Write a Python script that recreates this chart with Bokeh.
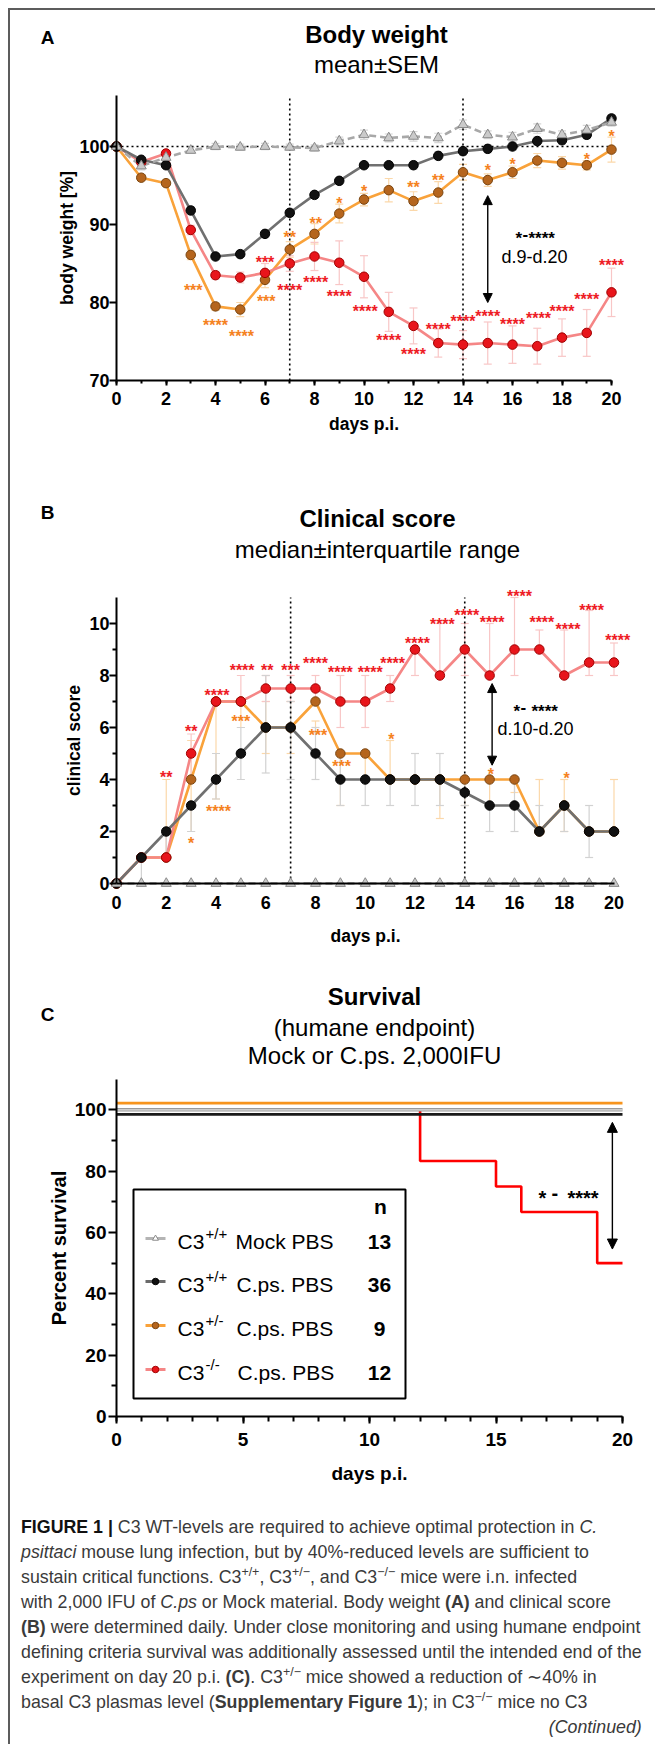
from bokeh.plotting import figure
from bokeh.models import (Range1d, FixedTicker, Label, Whisker, TeeHead, Arrow, NormalHead,
                          BoxAnnotation, ColumnDataSource, Div)
from bokeh.layouts import column
from bokeh.embed import file_html
from bokeh.resources import INLINE
from bokeh.core.properties import value
from bokeh.transform import dodge

# ---------------- data ----------------
days = list(range(21))

# Panel A: body weight [%], mean and SEM
bw_mock = [100, 97.5, 98.6, 99.5, 100.0, 99.9, 100.0, 99.9, 99.8, 100.7, 101.5, 101.1, 101.3, 101.1, 102.8, 101.5, 101.2, 102.3, 101.5, 102.1, 103.1]
bw_wt = [100, 98.3, 97.6, 91.8, 85.9, 86.2, 88.8, 91.5, 93.8, 95.6, 97.6, 97.6, 97.6, 98.8, 99.4, 99.7, 100.0, 100.7, 100.8, 101.5, 103.6]
bw_het = [100, 96.0, 95.3, 86.1, 79.5, 79.1, 82.9, 86.8, 88.8, 91.4, 93.2, 94.4, 93.0, 94.1, 96.7, 95.7, 96.7, 98.2, 97.9, 97.6, 99.6]
bw_ko = [100, 98.0, 99.1, 89.3, 83.5, 83.2, 83.8, 85.0, 85.9, 85.1, 83.3, 78.8, 77.0, 74.8, 74.6, 74.8, 74.6, 74.4, 75.5, 76.1, 81.3]
sem_mock = [0, 0.5, 0.5, 0.4, 0.4, 0.4, 0.4, 0.4, 0.4, 0.5, 0.6, 0.5, 0.6, 0.6, 0.6, 0.5, 0.6, 0.6, 0.5, 0.6, 0.5]
sem_wt = [0, 0.3, 0.3, 0.5, 0.4, 0.4, 0.4, 0.4, 0.4, 0.4, 0.4, 0.4, 0.5, 0.5, 0.5, 0.5, 0.5, 0.5, 0.5, 0.5, 0.5]
sem_het = [0, 0.4, 0.4, 0.6, 0.5, 0.9, 1.0, 1.0, 1.3, 1.2, 0.8, 1.5, 1.2, 1.4, 1.0, 0.8, 0.8, 0.9, 0.8, 0.6, 1.6]
sem_ko = [0, 0.5, 0.4, 0.6, 0.5, 0.7, 1.2, 1.0, 1.8, 2.8, 2.7, 2.5, 2.3, 1.8, 1.8, 2.7, 2.4, 2.3, 2.4, 3.0, 3.1]

bw_star_het_days = [3.1, 4, 5.05, 6.05, 7, 8.05, 9, 10, 12, 13, 15, 16, 19, 20]
bw_star_het_y = [82.1, 77.6, 76.2, 80.6, 88.9, 90.7, 93.2, 94.8, 95.2, 96.2, 97.5, 98.2, 98.9, 101.8]
bw_star_het_txt = ["***", "****", "****", "***", "**", "**", "*", "*", "**", "**", "*", "*", "*", "*"]
bw_star_ko_days = [6, 7, 8.05, 9, 10.05, 11, 12, 13, 14, 15, 16, 17.05, 18, 19, 20]
bw_star_ko_y = [85.7, 82.1, 83.1, 81.3, 79.4, 75.6, 73.8, 77.0, 78.1, 78.7, 77.7, 78.4, 79.4, 80.9, 85.2]
bw_star_ko_txt = ["***"] + ["****"] * 14

# Panel B: clinical score, median and interquartile range
cs_mock = [0] * 21
cs_wt = [0, 1, 2, 3, 4, 5, 6, 6, 5, 4, 4, 4, 4, 4, 3.5, 3, 3, 2, 3, 2, 2]
cs_het = [0, 1, 1, 4, 7, 7, 6, 6, 7, 5, 5, 4, 4, 4, 4, 4, 4, 2, 3, 2, 2]
cs_ko = [0, 1, 1, 5, 7, 7, 7.5, 7.5, 7.5, 7, 7, 7.5, 9, 8, 9, 8, 9, 9, 8, 8.5, 8.5]
iqr_wt_lo = [0, 0, 1, 2, 3.25, 4, 4.25, 4, 4, 3, 3, 3, 3, 3, 3, 2, 2, 2, 2, 1, 2]
iqr_wt_hi = [0, 1, 2, 3, 5, 6, 8, 7, 6, 5, 4, 4, 5, 5, 4, 3, 4, 3, 3, 3, 2]
iqr_het_lo = [0, 1, 1, 2, 3.25, 6, 5, 5, 5.8, 3, 4, 4, 4, 2.5, 3, 3, 3.5, 2, 2, 2, 2]
iqr_het_hi = [0, 1, 4, 5.5, 7, 7, 7, 7, 6.25, 5, 5, 5.5, 4, 4, 4, 4, 4, 4, 4, 2, 4]
iqr_ko_lo = [0, 1, 1, 4, 7, 7, 7, 7, 7, 6, 6, 7, 8, 8, 8, 8, 8, 9, 8, 8, 8]
iqr_ko_hi = [0, 1, 2, 5.75, 7, 8, 8, 8, 8, 8, 8, 8, 9, 10, 10, 10, 11, 9.75, 9.75, 10.5, 9.25]

cs_star_ko_days = [2, 3, 4.04, 5.05, 6.06, 7, 8, 9, 10.2, 11.1, 12.1, 13.1, 14.08, 15.1, 16.2, 17.1, 18.15, 19.1, 20.15]
cs_star_ko_y = [4.23, 6.0, 7.4, 8.36, 8.36, 8.36, 8.6, 8.27, 8.27, 8.6, 9.38, 10.13, 10.45, 10.2, 11.2, 10.2, 9.94, 10.67, 9.5]
cs_star_ko_txt = ["**", "**", "****", "****", "**", "***"] + ["****"] * 13
cs_star_het_days = [3, 4.1, 5, 8.1, 9.05, 11.05, 15.05, 18.1]
cs_star_het_y = [1.7, 2.92, 6.4, 5.83, 4.64, 5.7, 4.36, 4.19]
cs_star_het_txt = ["*", "****", "***", "***", "***", "*", "*", "*"]

# Panel C: survival (Kaplan-Meier)
surv_days = [0, 20]
surv_mock = [100, 100]
surv_wt = [100, 100]
surv_het = [100, 100]
surv_ko_days = [0, 12, 15, 16, 19, 20]
surv_ko = [100, 83.3, 75.0, 66.7, 50.0, 50.0]

legend_sup = ["+/+", "+/+", "+/-", "-/-"]
legend_rest = ["Mock PBS", "C.ps. PBS", "C.ps. PBS", "C.ps. PBS"]
legend_n = ["13", "36", "9", "12"]

# ---------------- styles ----------------
FONT = "Liberation Sans"
C_WT_LINE, C_WT_MK, C_WT_ERR = "#707070", "#111111", "#d2d2d2"
C_HET_LINE, C_HET_MK, C_HET_EDGE, C_HET_ERR = "#f9a23a", "#b5651d", "#7a4510", "#fbd8aa"
C_KO_LINE, C_KO_MK, C_KO_EDGE, C_KO_ERR = "#f58686", "#e8151b", "#a00000", "#f8c6c6"
C_MOCK_LINE, C_MOCK_MK, C_MOCK_EDGE, C_MOCK_ERR = "#a8a8a8", "#cacaca", "#8a8a8a", "#d6d6d6"
C_STAR_RED, C_STAR_ORA = "#ee1c25", "#f5821f"
DOT = "2 3"

FIG_W = 637
PAGE_L = 10  # page x of figure left edge (8 margin + 2 border)


class Frame:
    def __init__(self, x0px, x20px, ya_px, ya_val, yb_px, yb_val):
        self.x0px = x0px
        self.ppd = (x20px - x0px) / 20.0
        self.ya_px, self.ya_val = ya_px, ya_val
        self.ppu = (yb_px - ya_px) / (ya_val - yb_val)

    def X(self, px):
        return (px - self.x0px) / self.ppd

    def Y(self, py):
        return self.ya_val + (self.ya_px - py) / self.ppu


def make_fig(fr, top, height):
    # the plot frame covers the whole canvas; axes are placed with fixed_location
    p = figure(width=FIG_W, height=height,
               x_range=Range1d(fr.X(PAGE_L), fr.X(PAGE_L + FIG_W)),
               y_range=Range1d(fr.Y(top + height), fr.Y(top)),
               min_border_left=0, min_border_right=0, min_border_top=0, min_border_bottom=0,
               output_backend="svg", toolbar_location=None, title=None)
    p.grid.visible = False
    p.outline_line_color = None
    p.background_fill_color = "white"
    p.border_fill_color = "white"
    return p


def style_axes(p, xticks, xminor, yticks, yminor, xb, yb, xloc, yloc, tick_fs, xlab, ylab,
               xlab_fs, ylab_fs, xtick_out, ytick_out, xstand, ystand, xlstand, ylstand):
    for ax in (p.xaxis, p.yaxis):
        ax.axis_line_width = 2
        ax.axis_line_color = "black"
        ax.major_tick_line_width = 2
        ax.minor_tick_line_width = 2
        ax.major_tick_in = 0
        ax.minor_tick_in = 0
        ax.major_label_text_font = FONT
        ax.major_label_text_font_style = "bold"
        ax.major_label_text_font_size = tick_fs
        ax.major_label_text_color = "black"
        ax.axis_label_text_font = FONT
        ax.axis_label_text_font_style = "bold"
        ax.axis_label_text_color = "black"
    p.xaxis.ticker = FixedTicker(ticks=xticks, minor_ticks=xminor)
    p.yaxis.ticker = FixedTicker(ticks=yticks, minor_ticks=yminor)
    p.xaxis.bounds = xb
    p.yaxis.bounds = yb
    p.xaxis.fixed_location = xloc
    p.yaxis.fixed_location = yloc
    p.xaxis.major_tick_out = xtick_out
    p.xaxis.minor_tick_out = max(0, xtick_out - 2)
    p.yaxis.major_tick_out = ytick_out
    p.yaxis.minor_tick_out = max(0, ytick_out - 3)
    p.xaxis.major_label_standoff = xstand
    p.yaxis.major_label_standoff = ystand
    p.xaxis.axis_label = xlab
    p.yaxis.axis_label = ylab
    p.xaxis.axis_label_text_font_size = xlab_fs
    p.yaxis.axis_label_text_font_size = ylab_fs
    p.xaxis.axis_label_standoff = xlstand
    p.yaxis.axis_label_standoff = ylstand


def lab(p, fr, px, py, text, size, bold=False, align="center", color="black"):
    p.add_layout(Label(x=fr.X(px), y=fr.Y(py), text=text, text_font=FONT,
                       text_font_size=f"{size}px",
                       text_font_style="bold" if bold else "normal",
                       text_align=align, text_baseline="middle", text_color=color))


def sig_label(p, fr, pieces, py, size):
    # pieces: (text, left px); the dash is raised to the asterisks' height
    for text, px in pieces:
        raise_px = 5 if text == "-" else 0
        lab(p, fr, px, py - raise_px, text, size, bold=True, align="left")


def stars(p, xs, ys, txt, color):
    src = ColumnDataSource(dict(x=xs, y=ys, t=txt))
    p.text(x="x", y="y", text="t", source=src, text_font=value(FONT), text_font_style="bold",
           text_font_size="16px", text_color=color, text_align="center",
           text_baseline="middle", y_offset=4)


def series(p, x, y, line_color, mk, mk_fill, mk_line, dash="solid", size=9.5):
    p.line(x, y, line_color=line_color, line_width=2.6, line_dash=dash)
    return (x, y, mk, mk_fill, mk_line, size)


def draw_markers(p, specs):
    for (x, y, mk, fill, edge, size) in specs:
        p.scatter(x, y, marker=mk, size=size, fill_color=fill, line_color=edge, line_width=1)


def errbars(p, x, lo, hi, color):
    src = ColumnDataSource(dict(x=x, lo=lo, hi=hi))
    p.add_layout(Whisker(base="x", lower="lo", upper="hi", source=src, line_color=color,
                         line_width=1.2, level="underlay",
                         upper_head=TeeHead(size=8, line_color=color, line_width=1.2),
                         lower_head=TeeHead(size=8, line_color=color, line_width=1.2)))


def dbl_arrow(p, x, y0, y1, size):
    p.add_layout(Arrow(x_start=x, y_start=y0, x_end=x, y_end=y1, line_width=1.4,
                       start=NormalHead(size=size, fill_color="black", line_color="black"),
                       end=NormalHead(size=size, fill_color="black", line_color="black")))


# ================= Panel A =================
frA = Frame(116, 611, 146, 100, 380, 70)
pA = make_fig(frA, 10, 440)
style_axes(pA, list(range(0, 21, 2)), list(range(21)), [70, 80, 90, 100], [],
           (0, 20), (70, 106.5), 70, 0, "18px", "days p.i.", "body weight [%]",
           "17.5px", "17.5px", 5, 7, 6, 0, 6, -1)

errbars(pA, days, [m - s for m, s in zip(bw_het, sem_het)], [m + s for m, s in zip(bw_het, sem_het)], C_HET_ERR)
errbars(pA, days, [m - s for m, s in zip(bw_ko, sem_ko)], [m + s for m, s in zip(bw_ko, sem_ko)], C_KO_ERR)
errbars(pA, days, [m - s for m, s in zip(bw_wt, sem_wt)], [m + s for m, s in zip(bw_wt, sem_wt)], C_WT_ERR)
errbars(pA, days, [m - s for m, s in zip(bw_mock, sem_mock)], [m + s for m, s in zip(bw_mock, sem_mock)], C_MOCK_ERR)

pA.segment(x0=[7, 14], y0=[70, 70], x1=[7, 14], y1=[106.5, 106.5], line_color="black",
           line_width=1.6, line_dash=DOT)
pA.segment(x0=[0], y0=[100], x1=[20], y1=[100], line_color="black", line_width=1.6, line_dash=DOT)

specsA = [
    series(pA, days, bw_het, C_HET_LINE, "circle", C_HET_MK, C_HET_EDGE),
    series(pA, days, bw_ko, C_KO_LINE, "circle", C_KO_MK, C_KO_EDGE),
    series(pA, days, bw_wt, C_WT_LINE, "circle", C_WT_MK, "black"),
    series(pA, days, bw_mock, C_MOCK_LINE, "triangle", C_MOCK_MK, C_MOCK_EDGE, dash="7 4", size=10),
]
draw_markers(pA, specsA)
stars(pA, bw_star_het_days, bw_star_het_y, bw_star_het_txt, C_STAR_ORA)
stars(pA, bw_star_ko_days, bw_star_ko_y, bw_star_ko_txt, C_STAR_RED)

dbl_arrow(pA, 15, 93.7, 80.0, 9)
sig_label(pA, frA, [("*", 515), ("-", 522), ("****", 528)], 238, 17)
lab(pA, frA, 534, 256, "d.9-d.20", 18)
lab(pA, frA, 47, 37, "A", 19, bold=True)
lab(pA, frA, 376, 34, "Body weight", 24, bold=True)
lab(pA, frA, 376, 64, "mean\u00b1SEM", 24)

# ================= Panel B =================
frB = Frame(116, 613.5, 623, 10, 883, 0)
pB = make_fig(frB, 450, 500)
style_axes(pB, list(range(0, 21, 2)), [], list(range(0, 11, 2)), list(range(1, 11, 2)),
           (0, 20), (0, 11), 0, 0, "18px", "days p.i.", "clinical score",
           "17.5px", "17.5px", 0, 7, 12, 0, 14, 2)

errbars(pB, days, iqr_het_lo, iqr_het_hi, C_HET_ERR)
errbars(pB, days, iqr_ko_lo, iqr_ko_hi, C_KO_ERR)
errbars(pB, days, iqr_wt_lo, iqr_wt_hi, C_WT_ERR)
pB.segment(x0=[7, 14], y0=[0, 0], x1=[7, 14], y1=[11, 11], line_color="black",
           line_width=1.6, line_dash=DOT)
specsB = [
    series(pB, days, cs_het, C_HET_LINE, "circle", C_HET_MK, C_HET_EDGE),
    series(pB, days, cs_ko, C_KO_LINE, "circle", C_KO_MK, C_KO_EDGE),
    series(pB, days, cs_wt, C_WT_LINE, "circle", C_WT_MK, "black"),
    series(pB, days, cs_mock, C_MOCK_LINE, "triangle", C_MOCK_MK, C_MOCK_EDGE, dash="7 4", size=10),
]
draw_markers(pB, specsB)
stars(pB, cs_star_het_days, cs_star_het_y, cs_star_het_txt, C_STAR_ORA)
stars(pB, cs_star_ko_days, cs_star_ko_y, cs_star_ko_txt, C_STAR_RED)
dbl_arrow(pB, 15.1, 7.69, 4.55, 9)
sig_label(pB, frB, [("*", 513), ("-", 520), ("****", 531)], 711, 17)
lab(pB, frB, 535, 728, "d.10-d.20", 18)
lab(pB, frB, 47, 512, "B", 19, bold=True)
lab(pB, frB, 377, 518, "Clinical score", 24, bold=True)
lab(pB, frB, 377, 549, "median\u00b1interquartile range", 24)

# ================= Panel C =================
frC = Frame(116, 622, 1109.3, 100, 1416, 0)
pC = make_fig(frC, 950, 540)
style_axes(pC, [0, 5, 10, 15, 20], list(range(21)), [0, 20, 40, 60, 80, 100], [10, 30, 50, 70, 90],
           (0, 20), (0, 110), 0, 0, "19px", "days p.i.", "Percent survival",
           "19px", "20px", 7, 8, 9, 2, 14, 2)

pC.step(surv_ko_days, surv_ko, mode="after", line_color="#ff0000", line_width=2.6)
src_mock = ColumnDataSource(dict(x=surv_days, y=surv_mock))
src_wt = ColumnDataSource(dict(x=surv_days, y=surv_wt))
src_het = ColumnDataSource(dict(x=surv_days, y=surv_het))
pC.line("x", dodge("y", -1.5, range=pC.y_range), source=src_wt, line_color="#1a1a1a", line_width=2.6)
pC.line("x", "y", source=src_mock, line_color="#9a9a9a", line_width=3.4)
pC.line("x", "y", source=src_mock, line_color="#dedede", line_width=1.2)
pC.line("x", dodge("y", 2.2, range=pC.y_range), source=src_het, line_color="#f7941d", line_width=2.8)

dbl_arrow(pC, 19.6, 95.9, 54.6, 10)
sig_label(pC, frC, [("*", 538), ("-", 551), ("****", 567)], 1197, 20)

# legend (manual, to allow superscripts)
pC.add_layout(BoxAnnotation(left=frC.X(133), right=frC.X(405), top=frC.Y(1189), bottom=frC.Y(1398),
                            fill_color="white", fill_alpha=1.0, line_color="black", line_alpha=1.0,
                            line_width=2, level="underlay"))
lab(pC, frC, 380, 1206, "n", 21, bold=True)
row_py = [1241, 1284, 1328, 1372]
leg_line = ["#b4b4b4", "#6a6a6a", "#f9a23a", "#f58686"]
leg_mk = ["triangle", "circle", "circle", "circle"]
leg_fill = ["white", "#111111", "#b5651d", "#e8151b"]
leg_edge = ["#8a8a8a", "black", "#7a4510", "#a00000"]
rest_px = [235, 236, 236, 237]
for i in range(4):
    gy = frC.Y(row_py[i] - 3)
    pC.segment(x0=[frC.X(145)], y0=[gy], x1=[frC.X(165)], y1=[gy], line_color=leg_line[i], line_width=3)
    pC.scatter([frC.X(155)], [gy], marker=leg_mk[i], size=6 if i == 0 else 6.5,
               fill_color=leg_fill[i], line_color=leg_edge[i])
    lab(pC, frC, 177, row_py[i], "C3", 21, align="left")
    lab(pC, frC, 205, row_py[i] - 8, legend_sup[i], 15, align="left")
    lab(pC, frC, rest_px[i], row_py[i], legend_rest[i], 21, align="left")
    lab(pC, frC, 379, row_py[i], legend_n[i], 21, bold=True)

lab(pC, frC, 47, 1014, "C", 19, bold=True)
lab(pC, frC, 374, 996, "Survival", 24, bold=True)
lab(pC, frC, 374, 1027, "(humane endpoint)", 24)
lab(pC, frC, 374, 1055, "Mock or C.ps. 2,000IFU", 24)

# ================= Caption =================
sup = "<sup style='font-size:70%;line-height:0;vertical-align:0.55em'>"
cap_html = (
    "<div style=\"font-family:'Liberation Sans';font-size:17.8px;line-height:25px;color:#3a3a3a;"
    "white-space:nowrap;padding:20px 2px 0 6px;\">"
    "<b style='color:#111'>FIGURE 1 |</b> C3 WT-levels are required to achieve optimal protection in <i>C.</i><br>"
    "<i>psittaci</i> mouse lung infection, but by 40%-reduced levels are sufficient to<br>"
    f"sustain critical functions. C3{sup}+/+</sup>, C3{sup}+/\u2212</sup>, and C3{sup}\u2212/\u2212</sup> mice were i.n. infected<br>"
    "with 2,000 IFU of <i>C.ps</i> or Mock material. Body weight <b>(A)</b> and clinical score<br>"
    "<b>(B)</b> were determined daily. Under close monitoring and using humane endpoint<br>"
    "defining criteria survival was additionally assessed until the intended end of the<br>"
    f"experiment on day 20 p.i. <b>(C)</b>. C3{sup}+/\u2212</sup> mice showed a reduction of \u223c40% in<br>"
    f"basal C3 plasmas level (<b>Supplementary Figure 1</b>); in C3{sup}\u2212/\u2212</sup> mice no C3<br>"
    "<div style='text-align:right'><i>(Continued)</i></div>"
    "</div>"
)
caption = Div(text=cap_html, width=FIG_W, height=244)

layout = column(pA, pB, pC, caption, margin=(8, 0, 0, 8),
                styles={"border-left": "2px solid #5c5c5c", "border-top": "2px solid #5c5c5c"})

open("out.html", "w").write(file_html(layout, INLINE))
